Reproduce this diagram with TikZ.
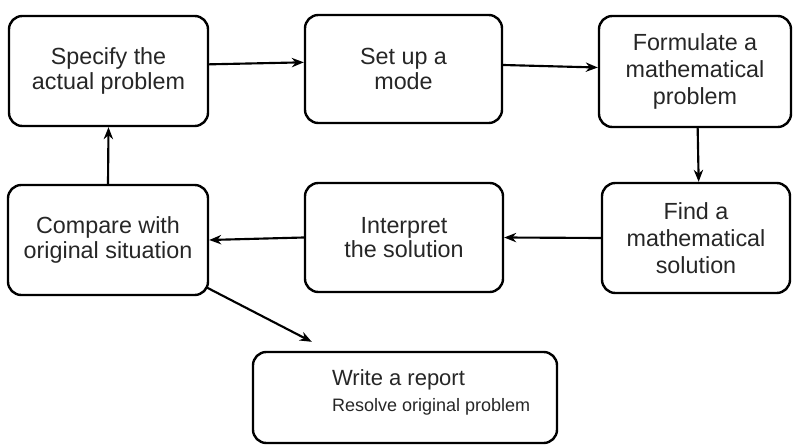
\documentclass[tikz,border=0pt]{standalone}
\usepackage{fontspec}
\setmainfont{Liberation Sans}
\usetikzlibrary{arrows.meta,calc}

\begin{document}
\begin{tikzpicture}[x=0.75pt,y=-0.75pt,
  stepbox/.style={draw=black, line width=1.8pt, rounded corners=10pt,
    align=center, inner sep=0pt, text=black!85,
    font=\fontsize{17.5}{18.5}\selectfont},
  conn/.style={line width=1.6pt, -{Stealth[length=9pt,width=7pt]}}]
\useasboundingbox (0,0) rectangle (793,445);

% process steps (sizes in px: 1px = 0.75pt)
\node[stepbox, minimum width=149.25pt, minimum height=82.5pt] (spec) at (108.5,71)
  {Specify the\\actual problem};
\node[stepbox, minimum width=147.75pt, minimum height=81pt] (model) at (403.5,69)
  {Set up a\\mode};
\node[stepbox, minimum width=144pt, minimum height=83.25pt,
  font=\fontsize{17.5}{20}\selectfont] (form) at (695,71.5)
  {Formulate a\\mathematical\\problem};
\node[stepbox, minimum width=141pt, minimum height=82.5pt,
  font=\fontsize{17.5}{20}\selectfont] (find) at (696,238)
  {Find a\\mathematical\\solution};
\node[stepbox, minimum width=148.5pt, minimum height=81.75pt] (interp) at (404,237.5)
  {Interpret\\the solution};
\node[stepbox, minimum width=150pt, minimum height=82.5pt] (comp) at (108,240)
  {Compare with\\original situation};
\node[stepbox, minimum width=228pt, minimum height=68.25pt] (report) at (405,397.5) {};
\node[anchor=west, align=left, inner sep=0pt, text=black!85,
  font=\fontsize{13.5}{20}\selectfont] (reporttext) at ($(report.west)+(80,-5)$)
  {{\fontsize{16.5}{20}\selectfont Write a report}\\Resolve original problem};

% connectors
\draw[conn] ([yshift=5pt]spec.east) -- ([yshift=5pt]model.west);
\draw[conn] ([yshift=3pt]model.east) -- ([yshift=3pt]form.west);
\draw[conn] ([xshift=2pt]form.south) -- ([xshift=2pt]find.north);
\draw[conn] (find.west) -- (interp.east);
\draw[conn] (interp.west) -- (comp.east);
\draw[conn] (comp.north) -- (spec.south);
\draw[conn] ($(comp.south east)+(-3,-9)$) -- ($(report.north west)+(60,-9)$);
\end{tikzpicture}
\end{document}
